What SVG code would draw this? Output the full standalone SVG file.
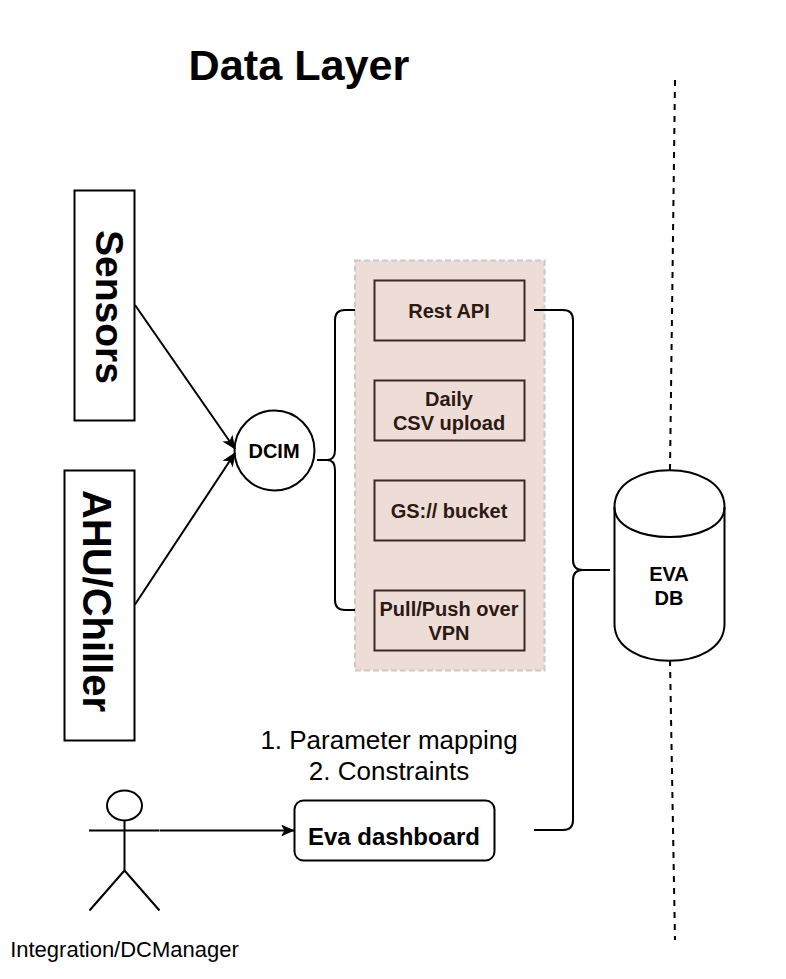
<svg xmlns="http://www.w3.org/2000/svg" width="786" height="979" viewBox="0 0 786 979">
<style>
text{font-family:"Liberation Sans",Arial,sans-serif;text-anchor:middle}
.b{font-weight:bold;font-size:20px;fill:#000}
.i{font-weight:bold;font-size:20px;fill:#2b1a14}
.r{font-size:26px;fill:#000}
.s{fill:#fff;stroke:#000;stroke-width:2}
.in{fill:none;stroke:#3a2a24;stroke-width:2}
.l{fill:none;stroke:#000;stroke-width:2}
.d{fill:none;stroke:#000;stroke-width:2;stroke-dasharray:6 6}
</style>
<defs>
<marker id="a" viewBox="0 0 14 12" refX="13.500" refY="6" markerWidth="14" markerHeight="12" markerUnits="userSpaceOnUse" orient="auto"><path d="M1.500 1L13 6L1.500 11L4.500 6Z" fill="#000" stroke="#000"/></marker>
</defs>
<rect width="786" height="979" fill="#fff"/>
<text x="299" y="79.500" style="font-size:43.200px;font-weight:bold">Data Layer</text>
<g id="group"><rect x="355" y="260.500" width="189.500" height="410" fill="#eedcd6" stroke="#cfc8c4" stroke-width="2" stroke-dasharray="6 3"/></g>
<g id="sensors"><rect class="s" x="74.500" y="190.500" width="60" height="230"/><text transform="translate(95.500 307) rotate(90)" style="font-size:39px;font-weight:bold">Sensors</text></g>
<g id="ahu"><rect class="s" x="64.500" y="470.500" width="70" height="270"/><text transform="translate(83 601) rotate(90)" style="font-size:40px;font-weight:bold">AHU/Chiller</text></g>
<g id="dcim"><circle class="s" cx="274.500" cy="450.500" r="40"/><text class="b" x="274" y="458">DCIM</text></g>
<g id="rest"><rect class="in" x="374.500" y="280.500" width="150" height="60"/><text class="i" x="449" y="318">Rest API</text></g>
<g id="csv"><rect class="in" x="374.500" y="380.500" width="150" height="60"/><text class="i" x="449" y="406">Daily</text><text class="i" x="449" y="430">CSV upload</text></g>
<g id="gs"><rect class="in" x="374.500" y="480.500" width="150" height="60"/><text class="i" x="449" y="518">GS:// bucket</text></g>
<g id="vpn"><rect class="in" x="374.500" y="590.500" width="150" height="60"/><text class="i" x="449" y="616">Pull/Push over</text><text class="i" x="449" y="640">VPN</text></g>
<g id="db"><path class="s" d="M614.500 507C614.500 458 724.500 458 724.500 507V624C724.500 673 614.500 673 614.500 624Z"/><path class="l" d="M614.500 507C614.500 547 724.500 547 724.500 507"/><text class="b" x="669" y="581">EVA</text><text class="b" x="669" y="605">DB</text></g>
<g id="actor"><ellipse class="s" cx="124.500" cy="805.500" rx="17.500" ry="15"/><path class="l" d="M124.500 820.500V870.500M89 830.500H159.500M124.500 870.500L89.500 910.500M124.500 870.500L159.500 910.500"/><text x="124.500" y="957" style="font-size:22px">Integration/DCManager</text></g>
<g id="eva"><rect class="s" x="294.500" y="800.500" width="200" height="60" rx="9"/><text x="394" y="845" style="font-size:24px;font-weight:bold">Eva dashboard</text></g>
<text class="r" x="389" y="749">1. Parameter mapping</text>
<text class="r" x="389" y="780">2. Constraints</text>
<g id="connectors">
<path class="d" d="M675 80L670 470"/>
<path class="d" d="M670 660L675 940"/>
<path class="l" marker-end="url(#a)" d="M135 305L235 449"/>
<path class="l" marker-end="url(#a)" d="M135 604.500L235 453"/>
<path class="l" d="M355 310H345Q335 310 335 320V450Q335 460 327 460H317M327 460Q335 460 335 470V600Q335 610 345 610H355"/>
<path class="l" d="M534 310H563Q573 310 573 320V560Q573 570 583 570H610"/>
<path class="l" d="M534 830H563Q573 830 573 820V580Q573 570 583 570"/>
<path class="l" marker-end="url(#a)" d="M160 830.500H294"/>
</g>
</svg>
